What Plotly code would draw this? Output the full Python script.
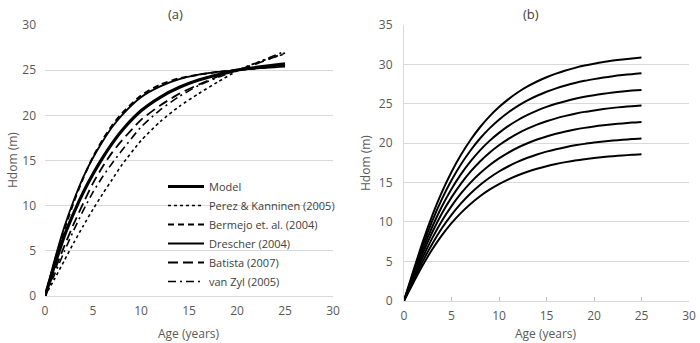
import plotly.graph_objects as go

# ---------------- data ----------------
ages_a = [0, 1, 2, 3, 4, 5, 6, 7, 8, 10, 12, 14, 16, 18, 20, 22, 25]

# panel (a)
model    = [0, 3.4, 6.6, 9.2, 11.5, 13.5, 15.3, 16.9, 18.3, 20.5, 22.0, 23.1, 23.9, 24.5, 25.0, 25.3, 25.7]
perez    = [0, 1.9, 3.9, 5.9, 7.8, 9.6, 11.3, 12.9, 14.5, 17.2, 19.3, 21.0, 22.4, 23.7, 24.9, 25.8, 26.8]
bermejo  = [0, 3.8, 7.3, 10.4, 13.1, 15.4, 17.3, 18.9, 20.2, 22.2, 23.4, 24.1, 24.5, 24.8, 25.0, 25.2, 25.5]
drescher = [0, 4.0, 7.6, 10.6, 13.2, 15.3, 17.1, 18.7, 20.0, 22.0, 23.2, 24.0, 24.5, 24.8, 25.0, 25.2, 25.4]
batista  = [0, 2.8, 5.5, 8.0, 10.3, 12.5, 14.3, 15.9, 17.2, 19.5, 21.1, 22.4, 23.4, 24.3, 25.0, 25.7, 26.9]
vanzyl   = [0, 2.4, 4.9, 7.3, 9.5, 11.5, 13.2, 14.7, 16.1, 18.7, 20.6, 22.1, 23.3, 24.2, 25.0, 25.8, 27.1]

series_a_names = ["Model", "Perez & Kanninen (2005)", "Bermejo et. al. (2004)",
                  "Drescher (2004)", "Batista (2007)", "van Zyl (2005)"]

# panel (b) site-index curves
ages_b = list(range(0, 26))
s7 = [0, 3.85, 7.58, 10.90, 13.82, 16.34, 18.52, 20.40, 22.02, 23.40, 24.58, 25.59, 26.46, 27.20, 27.83, 28.37, 28.83, 29.22, 29.56, 29.85, 30.09, 30.30, 30.48, 30.63, 30.76, 30.87]
s6 = [0, 3.60, 7.09, 10.19, 12.92, 15.28, 17.32, 19.07, 20.59, 21.88, 22.98, 23.93, 24.74, 25.43, 26.02, 26.53, 26.96, 27.32, 27.64, 27.91, 28.13, 28.33, 28.50, 28.64, 28.76, 28.86]
s5 = [0, 3.34, 6.57, 9.45, 11.98, 14.17, 16.06, 17.69, 19.09, 20.29, 21.31, 22.19, 22.94, 23.58, 24.13, 24.60, 25.00, 25.33, 25.63, 25.88, 26.09, 26.27, 26.43, 26.56, 26.67, 26.76]
s4 = [0, 3.09, 6.09, 8.75, 11.10, 13.12, 14.87, 16.38, 17.68, 18.79, 19.74, 20.55, 21.25, 21.84, 22.35, 22.78, 23.15, 23.46, 23.74, 23.97, 24.16, 24.33, 24.48, 24.60, 24.70, 24.79]
s3 = [0, 2.83, 5.57, 8.01, 10.16, 12.01, 13.61, 14.99, 16.18, 17.20, 18.07, 18.81, 19.45, 19.99, 20.46, 20.85, 21.19, 21.48, 21.73, 21.94, 22.12, 22.27, 22.40, 22.51, 22.61, 22.69]
s2 = [0, 2.57, 5.06, 7.27, 9.22, 10.90, 12.35, 13.61, 14.69, 15.61, 16.40, 17.07, 17.65, 18.14, 18.56, 18.92, 19.23, 19.49, 19.72, 19.91, 20.07, 20.21, 20.33, 20.43, 20.52, 20.59]
s1 = [0, 2.32, 4.56, 6.56, 8.32, 9.84, 11.15, 12.28, 13.26, 14.09, 14.80, 15.41, 15.93, 16.37, 16.75, 17.08, 17.36, 17.59, 17.80, 17.97, 18.11, 18.24, 18.35, 18.44, 18.52, 18.58]

x_ticks = [0, 5, 10, 15, 20, 25, 30]

# ---------------- figure ----------------
FONT = "Open Sans"
GREY = "#595959"
GRID = "#d9d9d9"

fig = go.Figure()

styles_a = [
    dict(width=3.2, dash="solid"),
    dict(width=1.6, dash="dot"),
    dict(width=2.0, dash="6px,4px"),
    dict(width=1.8, dash="solid"),
    dict(width=1.8, dash="10px,5px"),
    dict(width=1.6, dash="8px,4px,2px,4px"),
]
for name, ys, st in zip(series_a_names, [model, perez, bermejo, drescher, batista, vanzyl], styles_a):
    fig.add_trace(go.Scatter(
        x=ages_a, y=ys, mode="lines", name=name,
        line=dict(color="black", width=st["width"], dash=st["dash"], shape="spline", smoothing=0.6),
        xaxis="x", yaxis="y", showlegend=True,
    ))

for ys in [s1, s2, s3, s4, s5, s6, s7]:
    fig.add_trace(go.Scatter(
        x=ages_b, y=ys, mode="lines",
        line=dict(color="black", width=2, shape="spline", smoothing=0.8),
        xaxis="x2", yaxis="y2", showlegend=False,
    ))

W, H = 700, 343
def fx(p): return p / W
def fy(p): return 1 - p / H

def ann(text, x, y, size=12, color=GREY, angle=0):
    return dict(text=text, x=fx(x), y=fy(y), xref="paper", yref="paper", showarrow=False,
                xanchor="center", yanchor="middle", textangle=angle,
                font=dict(size=size, color=color, family=FONT))

fig.update_layout(
    width=W, height=H,
    margin=dict(l=0, r=0, t=0, b=0),
    paper_bgcolor="white", plot_bgcolor="white",
    font=dict(family=FONT, size=12, color=GREY),
    showlegend=True,
    legend=dict(
        x=fx(163), y=fy(172), xanchor="left", yanchor="top",
        bgcolor="rgba(0,0,0,0)", font=dict(size=11, color="#404040", family=FONT),
        tracegroupgap=0, itemwidth=36,
    ),
    xaxis=dict(
        domain=[fx(45), fx(333)], range=[0, 30], tickvals=x_ticks,
        showgrid=False, zeroline=False, showline=True, linecolor=GRID, linewidth=1,
        ticks="", tickfont=dict(size=12, color=GREY), ticklabelstandoff=4,
        anchor="y", automargin=False,
    ),
    yaxis=dict(
        domain=[fy(296), fy(25)], range=[0, 30], dtick=5,
        showgrid=True, gridcolor=GRID, gridwidth=1, zeroline=False, showline=False,
        ticks="", tickfont=dict(size=12, color=GREY), ticklabelstandoff=8,
        anchor="x", automargin=False,
    ),
    xaxis2=dict(
        domain=[fx(404), fx(689)], range=[0, 30], tickvals=x_ticks,
        showgrid=False, zeroline=False, showline=True, linecolor=GRID, linewidth=1,
        ticks="inside", ticklen=4, tickcolor="#bfbfbf",
        tickfont=dict(size=12, color=GREY), ticklabelstandoff=4,
        anchor="y2", automargin=False,
    ),
    yaxis2=dict(
        domain=[fy(300.7), fy(25)], range=[0, 35], dtick=5,
        showgrid=True, gridcolor=GRID, gridwidth=1, zeroline=False,
        showline=True, linecolor=GRID, linewidth=1,
        ticks="", tickfont=dict(size=12, color=GREY), ticklabelstandoff=8,
        anchor="x2", automargin=False,
    ),
    annotations=[
        ann("(a)", 175, 14, size=13, color="#404040"),
        ann("(b)", 531, 14, size=13, color="#404040"),
        ann("Age (years)", 189, 333),
        ann("Age (years)", 546, 333),
        ann("Hdom (m)", 12, 160, angle=-90),
        ann("Hdom (m)", 365, 163, angle=-90),
    ],
)

fig.write_html("out.html")
